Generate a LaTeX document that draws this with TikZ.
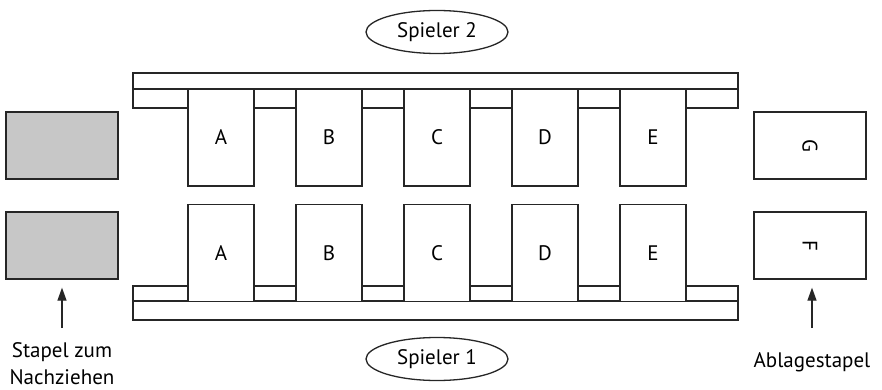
\documentclass[tikz,border=0pt]{standalone}
\usepackage{fontspec}
\setmainfont{PT Sans}
\usetikzlibrary{arrows.meta,shapes.geometric}
\begin{document}
\begin{tikzpicture}[x=1pt,y=-1pt]
\tikzset{
  ln/.style={draw=black!85, line width=1.3pt},
  bar/.style={ln, fill=white},
  card/.style={ln, fill=white, minimum width=66pt, minimum height=97pt, inner sep=0pt, font=\fontsize{21}{24}\selectfont},
  pile/.style={ln, minimum width=112pt, minimum height=67pt, inner sep=0pt, font=\fontsize{21}{24}\selectfont},
  player/.style={ln, ellipse, minimum width=142pt, minimum height=43pt, inner sep=0pt, font=\fontsize{21}{24}\selectfont},
  lab/.style={align=center, font=\fontsize{21}{27}\selectfont, inner sep=0pt},
  arr/.style={ln, -{Triangle[length=13pt,width=9pt]}, shorten >=8pt}
}
\useasboundingbox (0,0) rectangle (882,390);
% top rack
\draw[bar] (133,73) rectangle (738,89);
\draw[bar] (133,89) rectangle (738,108);
% bottom rack
\draw[bar] (133,286) rectangle (738,301);
\draw[bar] (133,301) rectangle (738,320);
% cards
\foreach \l [count=\i from 0] in {A,B,C,D,E}{
  \node[card] (t\l) at (221+108*\i,137.5) {\l};
  \node[card] (b\l) at (221+108*\i,253) {\l};
}
% piles
\node[pile, fill=black!22] (draw1) at (62,145.5) {};
\node[pile, fill=black!22] (draw2) at (62,245.5) {};
\node[pile, fill=white] (g) at (810,145.5) {\rotatebox{-90}{G}};
\node[pile, fill=white] (f) at (810,245.5) {\rotatebox{-90}{F}};
% players
\node[player] (p2) at (437,32) {Spieler 2};
\node[player] (p1) at (437,359) {Spieler 1};
% labels
\node[lab] (ldraw) at (62,364) {Stapel zum\\Nachziehen};
\node[lab] (ldisc) at (812,362) {Ablagestapel};
\coordinate (tdraw) at (62,328);
\coordinate (tdisc) at (812,328);
\draw[arr] (tdraw) -- (draw2.south);
\draw[arr] (tdisc) -- (f.south -| tdisc);
\end{tikzpicture}
\end{document}
